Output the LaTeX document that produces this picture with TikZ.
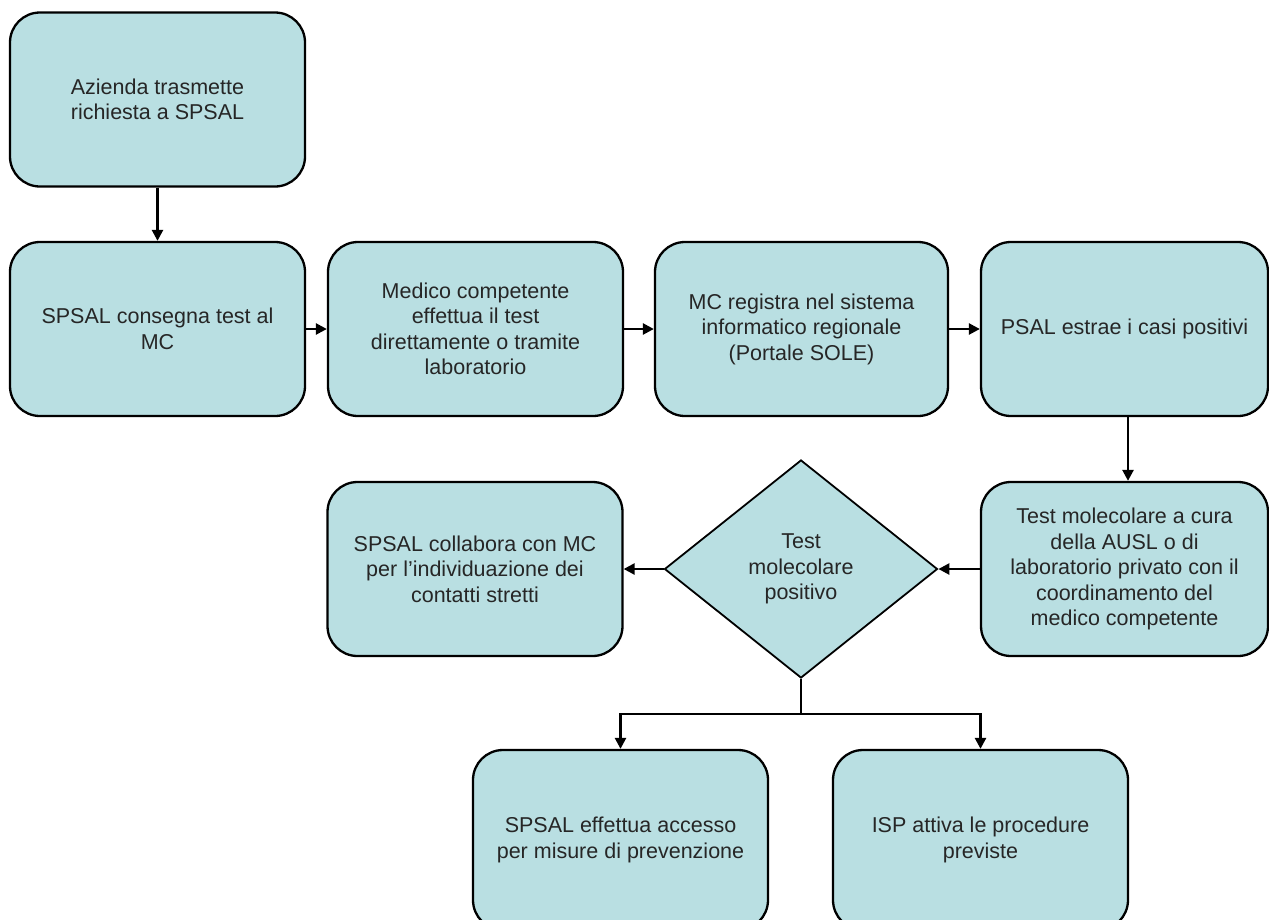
\documentclass[tikz,border=0pt]{standalone}
\usepackage{fontspec}
\setmainfont{Liberation Sans}
\usetikzlibrary{shapes.geometric,arrows.meta}
\definecolor{boxfill}{RGB}{185,223,226}
\tikzset{
  stepbox/.style={draw=black, line width=2.3pt, fill=boxfill, rounded corners=30pt,
    minimum width=295pt, minimum height=174pt, inner sep=0pt, align=center,
    font=\fontsize{21.5}{25.5}\selectfont, text=black!85},
  decision/.style={draw=black, line width=1.8pt, fill=boxfill, diamond, inner sep=0pt,
    minimum width=273pt, minimum height=218pt, align=center,
    font=\fontsize{21.5}{25.5}\selectfont, text=black!85},
  conn/.style={draw=black, line width=2.5pt, -{Triangle[length=11pt,width=11pt]}},
  plain/.style={draw=black, line width=2.5pt},
}
\begin{document}
\begin{tikzpicture}[x=1pt,y=1pt]
\useasboundingbox (0,0) rectangle (1269,-919);
\begin{scope}
\clip (0,0) rectangle (1269,-919);
\node[stepbox] (a) at (157.5,-99.5) {Azienda trasmette\\richiesta a SPSAL};
\node[stepbox] (b) at (157.5,-329) {SPSAL consegna test al\\MC};
\node[stepbox] (c) at (475.5,-329) {Medico competente\\effettua il test\\direttamente o tramite\\laboratorio};
\node[stepbox, minimum width=293pt] (d) at (801.5,-329) {MC registra nel sistema\\informatico regionale\\(Portale SOLE)};
\node[stepbox, minimum width=287pt] (e) at (1124.5,-329) {PSAL estrae i casi positivi};
\node[stepbox, minimum width=287pt] (f) at (1124.5,-569) {Test molecolare a cura\\della AUSL o di\\laboratorio privato con il\\coordinamento del\\medico competente};
\node[decision] (g) at (801,-569) {Test\\molecolare\\positivo};
\node[stepbox] (h) at (475,-569) {SPSAL collabora con MC\\per l’individuazione dei\\contatti stretti};
\node[stepbox, minimum height=180pt] (i) at (620.5,-840) {SPSAL effettua accesso\\per misure di prevenzione};
\node[stepbox, minimum height=180pt] (j) at (980.5,-840) {ISP attiva le procedure\\previste};

\draw[conn] (a) -- (b);
\draw[conn] (b) -- (c);
\draw[conn] (c) -- (d);
\draw[conn] (d) -- (e);
\draw[conn] ([xshift=3.5pt]e.south) -- ([xshift=3.5pt]f.north);
\draw[conn] (f) -- (g);
\draw[conn] (g) -- (h);
\coordinate (split) at (801,-714);
\draw[plain] (g.south) -- (split);
\draw[conn] (split) -| (i.north);
\draw[conn] (split) -| (j.north);
\end{scope}
\end{tikzpicture}
\end{document}
